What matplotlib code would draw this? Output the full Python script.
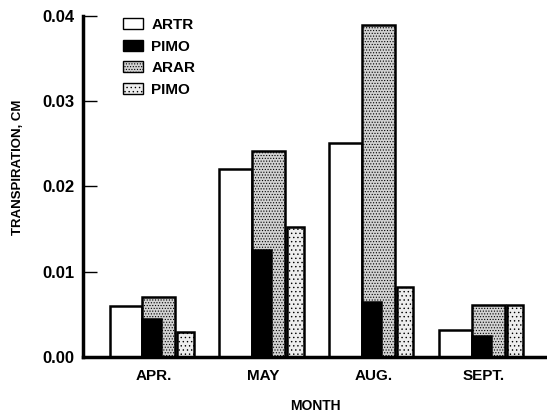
import numpy as np
import matplotlib
matplotlib.use('Agg')
import matplotlib.pyplot as plt
from matplotlib.patches import Patch

# Transpiration per month for four shrub/tree series

months = ['APR.', 'MAY', 'AUG.', 'SEPT.']
artr = [0.0060, 0.0220, 0.0251, 0.0031]
pimo_dark = [0.0044, 0.0125, 0.0064, 0.0024]
arar = [0.0070, 0.0242, 0.0390, 0.0061]
pimo_light = [0.0029, 0.0152, 0.0082, 0.0061]
yticks = [0.00, 0.01, 0.02, 0.03, 0.04]

plt.rcParams['font.family'] = ['Liberation Sans', 'DejaVu Sans']
plt.rcParams['font.weight'] = 'bold'
plt.rcParams['hatch.linewidth'] = 0.5

x = np.arange(len(months))
edge = 'black'
lw = 1.8

fig = plt.figure(figsize=(5.47, 4.13), dpi=100)
ax = fig.add_axes([0.152, 0.136, 0.848, 0.825])

ax.bar(x - 0.40, artr, width=0.30, align='edge', color='white', edgecolor=edge, linewidth=lw, zorder=2)
ax.bar(x - 0.10, arar, width=0.30, align='edge', color='#d2d2d2', edgecolor=edge, linewidth=lw,
       hatch='......', zorder=2)
ax.bar(x - 0.10, pimo_dark, width=0.17, align='edge', color='black', edgecolor=edge, linewidth=lw, zorder=3)
ax.bar(x + 0.215, pimo_light, width=0.15, align='edge', color='#ededed', edgecolor=edge, linewidth=lw,
       hatch='....', zorder=2)

ax.set_xlim(-0.64, 3.58)
ax.set_ylim(0, 0.04)
ax.set_yticks(yticks)
ax.set_yticklabels(['%.2f' % t for t in yticks])
ax.set_xticks(x)
ax.set_xticklabels(months)
ax.tick_params(axis='x', length=0, pad=9, labelsize=11)
ax.tick_params(axis='y', direction='in', length=10, width=1, labelsize=12, pad=6)

for s in ['top', 'right']:
    ax.spines[s].set_visible(False)
ax.spines['left'].set_linewidth(2.5)
ax.spines['bottom'].set_linewidth(2.5)

ax.set_ylabel('TRANSPIRATION, CM', fontsize=9.5, fontweight='bold')
ax.yaxis.set_label_coords(-0.128, 0.555)
ax.set_xlabel('MONTH', fontsize=10, fontweight='bold')
ax.xaxis.set_label_coords(0.5, -0.125)

handles = [
    Patch(facecolor='white', edgecolor=edge, linewidth=1),
    Patch(facecolor='black', edgecolor=edge, linewidth=1),
    Patch(facecolor='#d2d2d2', edgecolor=edge, linewidth=1, hatch='......'),
    Patch(facecolor='#ededed', edgecolor=edge, linewidth=1, hatch='....'),
]
ax.legend(handles, ['ARTR', 'PIMO', 'ARAR', 'PIMO'], loc='upper left', bbox_to_anchor=(0.056, 1.035),
          frameon=False, fontsize=11, handlelength=1.3, handleheight=0.75, handletextpad=0.55,
          labelspacing=0.5)

plt.savefig('out.png', dpi=100)
